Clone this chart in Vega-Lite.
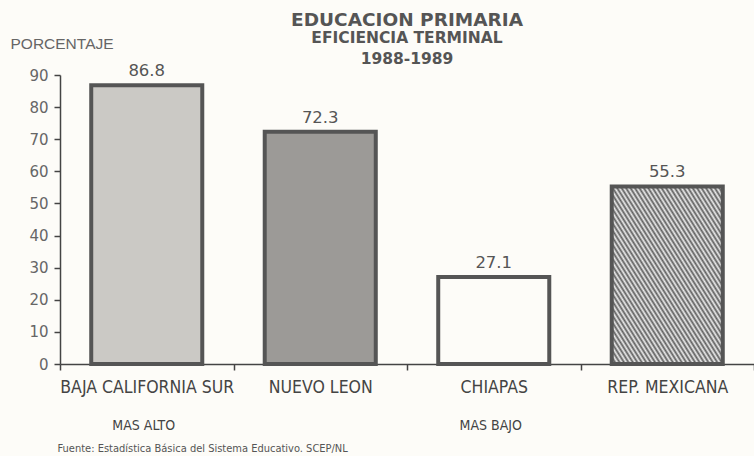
{
  "$schema": "https://vega.github.io/schema/vega-lite/v6.json",
  "autosize": "none",
  "width": 694,
  "height": 289,
  "padding": {"left": 60, "top": 75, "right": 0, "bottom": 92},
  "background": "#fdfcf8",
  "config": {"view": {"stroke": null}, "font": "Liberation Sans"},
  "title": {
    "text": "EDUCACION  PRIMARIA",
    "subtitle": ["EFICIENCIA  TERMINAL", "1988-1989"],
    "anchor": "middle",
    "frame": "group",
    "font": "DejaVu Sans",
    "fontSize": 18.5,
    "fontWeight": "bold",
    "color": "#555555",
    "subtitleFont": "DejaVu Sans",
    "subtitleFontSize": 15.5,
    "subtitleFontWeight": "bold",
    "subtitleColor": "#555555",
    "subtitlePadding": 1,
    "subtitleLineHeight": 21,
    "offset": -31
  },
  "data": {
    "values": [
      {"estado": "BAJA CALIFORNIA SUR", "valor": 86.8, "nota": "MAS ALTO"},
      {"estado": "NUEVO LEON", "valor": 72.3, "nota": ""},
      {"estado": "CHIAPAS", "valor": 27.1, "nota": "MAS BAJO"},
      {"estado": "REP. MEXICANA", "valor": 55.3, "nota": ""}
    ]
  },
  "encoding": {
    "x": {
      "field": "estado",
      "type": "nominal",
      "sort": null,
      "scale": {"paddingInner": 0, "paddingOuter": 0},
      "axis": {
        "title": "Fuente: Estadística Básica del Sistema Educativo. SCEP/NL",
        "titleFont": "DejaVu Sans Condensed, Liberation Sans",
        "titleFontSize": 11,
        "titleFontWeight": "normal",
        "titleColor": "#555555",
        "titleAnchor": "start",
        "titleAlign": "left",
        "titleBaseline": "alphabetic",
        "titleX": -3,
        "titleY": 87,
        "labelAngle": 0,
        "labelLimit": 0,
        "labelFont": "DejaVu Sans Condensed, Liberation Sans",
        "labelFontSize": 17.5,
        "labelColor": "#444444",
        "labelPadding": 8,
        "tickBand": "extent",
        "tickSize": 6,
        "tickColor": "#444444",
        "tickWidth": 1.5,
        "domainColor": "#444444",
        "domainWidth": 1.5,
        "grid": false
      }
    }
  },
  "layer": [
    {
      "mark": {"type": "bar", "width": {"band": 0.64}, "stroke": "#555555", "strokeWidth": 4},
      "encoding": {
        "y": {
          "field": "valor",
          "type": "quantitative",
          "scale": {"domain": [0, 90], "nice": false},
          "axis": {
            "title": "PORCENTAJE",
            "titleAngle": 0,
            "titleAlign": "left",
            "titleBaseline": "alphabetic",
            "titleX": -50,
            "titleY": -27,
            "titleFont": "Liberation Sans",
            "titleFontSize": 15.5,
            "titleFontWeight": "normal",
            "titleColor": "#666666",
            "values": [0, 10, 20, 30, 40, 50, 60, 70, 80, 90],
            "labelOverlap": false,
            "labelFont": "DejaVu Sans",
            "labelFontSize": 15,
            "labelColor": "#666666",
            "labelPadding": 6,
            "tickSize": 6,
            "tickColor": "#444444",
            "tickWidth": 1.5,
            "domainColor": "#444444",
            "domainWidth": 1.5,
            "grid": false
          }
        },
        "fill": {
          "condition": {
            "test": "datum.estado === 'REP. MEXICANA'",
            "value": {
              "gradient": "linear", "x1": 0, "y1": 1, "x2": 1, "y2": 0,
              "stops": [
                {"offset": 0, "color": "#5e5e5e"}, {"offset": 0.01, "color": "#ececec"},
                {"offset": 0.02, "color": "#5e5e5e"}, {"offset": 0.03, "color": "#ececec"},
                {"offset": 0.04, "color": "#5e5e5e"}, {"offset": 0.05, "color": "#ececec"},
                {"offset": 0.06, "color": "#5e5e5e"}, {"offset": 0.07, "color": "#ececec"},
                {"offset": 0.08, "color": "#5e5e5e"}, {"offset": 0.09, "color": "#ececec"},
                {"offset": 0.10, "color": "#5e5e5e"}, {"offset": 0.11, "color": "#ececec"},
                {"offset": 0.12, "color": "#5e5e5e"}, {"offset": 0.13, "color": "#ececec"},
                {"offset": 0.14, "color": "#5e5e5e"}, {"offset": 0.15, "color": "#ececec"},
                {"offset": 0.16, "color": "#5e5e5e"}, {"offset": 0.17, "color": "#ececec"},
                {"offset": 0.18, "color": "#5e5e5e"}, {"offset": 0.19, "color": "#ececec"},
                {"offset": 0.20, "color": "#5e5e5e"}, {"offset": 0.21, "color": "#ececec"},
                {"offset": 0.22, "color": "#5e5e5e"}, {"offset": 0.23, "color": "#ececec"},
                {"offset": 0.24, "color": "#5e5e5e"}, {"offset": 0.25, "color": "#ececec"},
                {"offset": 0.26, "color": "#5e5e5e"}, {"offset": 0.27, "color": "#ececec"},
                {"offset": 0.28, "color": "#5e5e5e"}, {"offset": 0.29, "color": "#ececec"},
                {"offset": 0.30, "color": "#5e5e5e"}, {"offset": 0.31, "color": "#ececec"},
                {"offset": 0.32, "color": "#5e5e5e"}, {"offset": 0.33, "color": "#ececec"},
                {"offset": 0.34, "color": "#5e5e5e"}, {"offset": 0.35, "color": "#ececec"},
                {"offset": 0.36, "color": "#5e5e5e"}, {"offset": 0.37, "color": "#ececec"},
                {"offset": 0.38, "color": "#5e5e5e"}, {"offset": 0.39, "color": "#ececec"},
                {"offset": 0.40, "color": "#5e5e5e"}, {"offset": 0.41, "color": "#ececec"},
                {"offset": 0.42, "color": "#5e5e5e"}, {"offset": 0.43, "color": "#ececec"},
                {"offset": 0.44, "color": "#5e5e5e"}, {"offset": 0.45, "color": "#ececec"},
                {"offset": 0.46, "color": "#5e5e5e"}, {"offset": 0.47, "color": "#ececec"},
                {"offset": 0.48, "color": "#5e5e5e"}, {"offset": 0.49, "color": "#ececec"},
                {"offset": 0.50, "color": "#5e5e5e"}, {"offset": 0.51, "color": "#ececec"},
                {"offset": 0.52, "color": "#5e5e5e"}, {"offset": 0.53, "color": "#ececec"},
                {"offset": 0.54, "color": "#5e5e5e"}, {"offset": 0.55, "color": "#ececec"},
                {"offset": 0.56, "color": "#5e5e5e"}, {"offset": 0.57, "color": "#ececec"},
                {"offset": 0.58, "color": "#5e5e5e"}, {"offset": 0.59, "color": "#ececec"},
                {"offset": 0.60, "color": "#5e5e5e"}, {"offset": 0.61, "color": "#ececec"},
                {"offset": 0.62, "color": "#5e5e5e"}, {"offset": 0.63, "color": "#ececec"},
                {"offset": 0.64, "color": "#5e5e5e"}, {"offset": 0.65, "color": "#ececec"},
                {"offset": 0.66, "color": "#5e5e5e"}, {"offset": 0.67, "color": "#ececec"},
                {"offset": 0.68, "color": "#5e5e5e"}, {"offset": 0.69, "color": "#ececec"},
                {"offset": 0.70, "color": "#5e5e5e"}, {"offset": 0.71, "color": "#ececec"},
                {"offset": 0.72, "color": "#5e5e5e"}, {"offset": 0.73, "color": "#ececec"},
                {"offset": 0.74, "color": "#5e5e5e"}, {"offset": 0.75, "color": "#ececec"},
                {"offset": 0.76, "color": "#5e5e5e"}, {"offset": 0.77, "color": "#ececec"},
                {"offset": 0.78, "color": "#5e5e5e"}, {"offset": 0.79, "color": "#ececec"},
                {"offset": 0.80, "color": "#5e5e5e"}, {"offset": 0.81, "color": "#ececec"},
                {"offset": 0.82, "color": "#5e5e5e"}, {"offset": 0.83, "color": "#ececec"},
                {"offset": 0.84, "color": "#5e5e5e"}, {"offset": 0.85, "color": "#ececec"},
                {"offset": 0.86, "color": "#5e5e5e"}, {"offset": 0.87, "color": "#ececec"},
                {"offset": 0.88, "color": "#5e5e5e"}, {"offset": 0.89, "color": "#ececec"},
                {"offset": 0.90, "color": "#5e5e5e"}, {"offset": 0.91, "color": "#ececec"},
                {"offset": 0.92, "color": "#5e5e5e"}, {"offset": 0.93, "color": "#ececec"},
                {"offset": 0.94, "color": "#5e5e5e"}, {"offset": 0.95, "color": "#ececec"},
                {"offset": 0.96, "color": "#5e5e5e"}, {"offset": 0.97, "color": "#ececec"},
                {"offset": 0.98, "color": "#5e5e5e"}, {"offset": 0.99, "color": "#ececec"},
                {"offset": 1, "color": "#5e5e5e"}
              ]
            }
          },
          "field": "estado",
          "type": "nominal",
          "scale": {
            "domain": ["BAJA CALIFORNIA SUR", "NUEVO LEON", "CHIAPAS", "REP. MEXICANA"],
            "range": ["#cbc9c5", "#9c9a97", "#fdfcf8", "#a5a5a5"]
          },
          "legend": null
        }
      }
    },
    {
      "mark": {"type": "text", "baseline": "alphabetic", "dy": -9, "font": "DejaVu Sans", "fontSize": 16.5, "color": "#555555"},
      "encoding": {
        "y": {"field": "valor", "type": "quantitative", "axis": {"title": "PORCENTAJE", "values": [0, 10, 20, 30, 40, 50, 60, 70, 80, 90], "labelOverlap": false}},
        "text": {"field": "valor", "type": "quantitative", "format": ".1f"}
      }
    },
    {
      "mark": {"type": "text", "baseline": "alphabetic", "dx": -3, "font": "DejaVu Sans Condensed, Liberation Sans", "fontSize": 14, "color": "#444444"},
      "encoding": {
        "y": {"datum": -20.7, "type": "quantitative", "axis": {"title": "PORCENTAJE", "values": [0, 10, 20, 30, 40, 50, 60, 70, 80, 90], "labelOverlap": false}},
        "text": {"field": "nota", "type": "nominal"}
      }
    }
  ]
}
